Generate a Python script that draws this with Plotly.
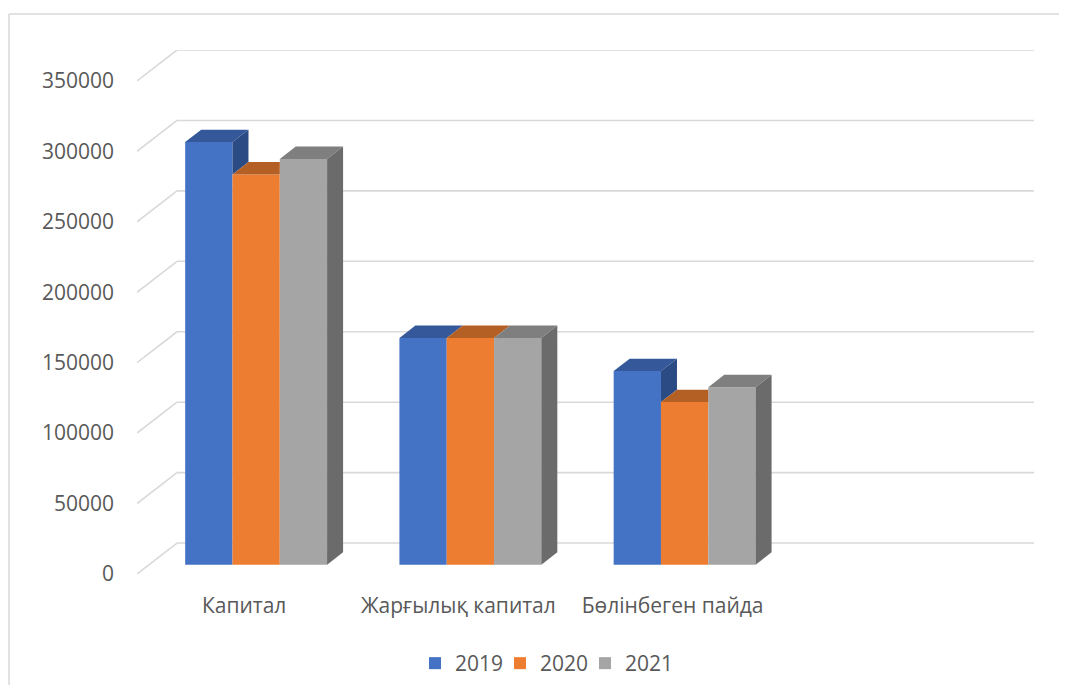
import plotly.graph_objects as go

categories = ["Капитал", "Жарғылық капитал", "Бөлінбеген пайда"]
years = ["2019", "2020", "2021"]
values_2019 = [300000, 161000, 137500]
values_2020 = [277000, 161000, 115500]
values_2021 = [288000, 161000, 126000]
y_ticks = [0, 50000, 100000, 150000, 200000, 250000, 300000, 350000]

series = [values_2019, values_2020, values_2021]
front_col = ["#4472C4", "#ED7D31", "#A5A5A5"]
top_col = ["#34589A", "#B45F24", "#7F7F7F"]
side_col = ["#2B4B84", "#A0521E", "#6B6B6B"]

# oblique-projection geometry (category units / value units)
n_slots = 4
DX = 0.1867          # full floor depth, in category units
DY = 21955           # full floor depth, in value units
d0, d1 = 0.3, 0.7    # bar depth span (fraction of floor depth)
bw = 0.2208          # bar width in category units
bx, by = d0 * DX, d0 * DY
ddx, ddy = (d1 - d0) * DX, (d1 - d0) * DY

fig = go.Figure()

# gridlines: side wall diagonals + back wall horizontals
shapes = []
grid = dict(color="#D9D9D9", width=1.6)
for v in y_ticks:
    shapes.append(dict(type="line", xref="x", yref="y", x0=0, y0=v, x1=DX, y1=v + DY,
                       line=grid, layer="below"))
    shapes.append(dict(type="line", xref="x", yref="y", x0=DX, y0=v + DY, x1=n_slots + DX,
                       y1=v + DY, line=grid, layer="below"))

# outer chart border (top and left)
bx_paper = (9 - 137) / 897
by_paper = (574 - 14) / 524
shapes.append(dict(type="line", xref="paper", yref="paper", x0=bx_paper, x1=1.1,
                   y0=by_paper, y1=by_paper, line=dict(color="#D9D9D9", width=1.5)))
shapes.append(dict(type="line", xref="paper", yref="paper", x0=bx_paper, x1=bx_paper,
                   y0=-0.3, y1=by_paper, line=dict(color="#D9D9D9", width=1.5)))

# front faces as real bars
for k, (yr, vals) in enumerate(zip(years, series)):
    xs = [i + 0.5 + (k - 1) * bw + bx for i in range(len(categories))]
    fig.add_trace(go.Bar(x=xs, y=vals, base=[by] * len(vals), width=bw, name=yr,
                         marker=dict(color=front_col[k], line=dict(width=0)),
                         customdata=categories,
                         hovertemplate="%{customdata}<br>" + yr + ": %{y}<extra></extra>"))

# top and side faces (visible parts), drawn in depth order
for i in range(len(categories)):
    for k in range(len(years)):
        h = series[k][i]
        hn = series[k + 1][i] if k + 1 < len(years) else 0
        xc = i + 0.5 + (k - 1) * bw + bx
        xl, xr = xc - bw / 2, xc + bw / 2
        H = h + by
        # top face, clipped by next bar's front face
        if k + 1 < len(years):
            Y = min(max(hn + by, H), H + ddy)
        else:
            Y = H
        xi = xr + ddx * (Y - H) / ddy
        tx = [xl, xr, xr, xi, xr + ddx, xl + ddx, xl]
        ty = [H, H, Y, Y, H + ddy, H + ddy, H]
        fig.add_trace(go.Scatter(x=tx, y=ty, fill="toself", mode="none",
                                 fillcolor=top_col[k],
                                 hoverinfo="skip", showlegend=False))
        # side face, visible above the next bar
        if h > hn:
            yl = hn + by
            sx = [xr, xr, xr + ddx, xr + ddx, xr]
            sy = [yl, H, H + ddy, yl + ddy, yl]
            fig.add_trace(go.Scatter(x=sx, y=sy, fill="toself", mode="none",
                                     fillcolor=side_col[k],
                                     hoverinfo="skip", showlegend=False))

font_family = "Open Sans, Segoe UI, sans-serif"
# page body has an 8px margin; size the figure so the page fits the window exactly
fig_w, fig_h = 1051, 677
fig.update_layout(
    width=fig_w, height=fig_h,
    margin=dict(l=129, r=25, t=42, b=111, autoexpand=False),
    paper_bgcolor="white", plot_bgcolor="white",
    barmode="overlay",
    shapes=shapes,
    font=dict(family=font_family, size=21, color="#595959"),
    xaxis=dict(range=[0, n_slots + DX], tickvals=[i + 0.5 for i in range(len(categories))],
               ticktext=categories, showgrid=False, zeroline=False, showline=False,
               ticks="", ticklabelstandoff=17, fixedrange=True, automargin=False),
    yaxis=dict(range=[0, y_ticks[-1] + DY], tickvals=y_ticks, ticktext=[str(v) for v in y_ticks],
               showgrid=False, zeroline=False, showline=False, ticks="",
               ticklabelstandoff=22, fixedrange=True, automargin=False),
    legend=dict(orientation="h", xref="paper", x=(415 - 137) / 897, xanchor="left",
                yref="container", y=1 - (663.5 - 8) / fig_h, yanchor="middle",
                entrywidth=40, font=dict(size=21, color="#595959"),
                traceorder="normal"),
    showlegend=True,
)

fig.write_html("out.html")
